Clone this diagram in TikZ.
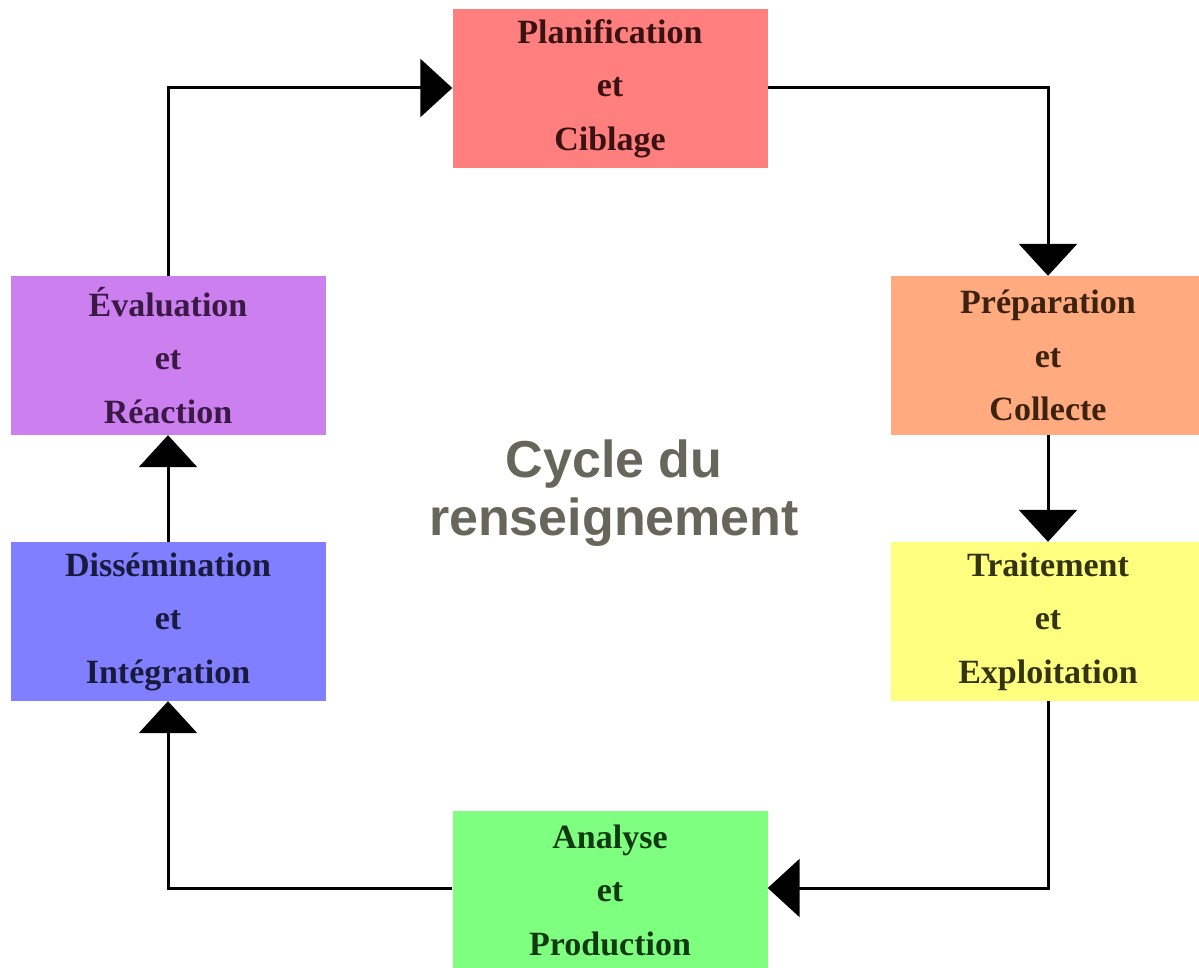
\documentclass[tikz,border=0pt]{standalone}
\usepackage{fontspec}
\setmainfont{Liberation Serif}
\newfontfamily\titlefont{Liberation Sans}
\usetikzlibrary{arrows.meta}
\definecolor{cPlan}{HTML}{FF7F7F}
\definecolor{cPrep}{HTML}{FFAA7F}
\definecolor{cTrait}{HTML}{FFFF7F}
\definecolor{cAna}{HTML}{7FFF7F}
\definecolor{cDiss}{HTML}{7F7FFF}
\definecolor{cEval}{HTML}{CC7FEE}
\definecolor{tPlan}{HTML}{3A1212}
\definecolor{tPrep}{HTML}{3D2210}
\definecolor{tTrait}{HTML}{343412}
\definecolor{tAna}{HTML}{123A12}
\definecolor{tDiss}{HTML}{1A1A3E}
\definecolor{tEval}{HTML}{3A1A45}
\definecolor{titlegray}{HTML}{66665A}
\tikzset{
  stagebox/.style={rectangle, draw=none, minimum width=315pt, minimum height=159pt,
    inner sep=0pt, align=center, font=\fontsize{34}{53.5}\selectfont\bfseries},
  flow/.style={line width=3pt, -{Triangle[length=32pt,width=58pt]}},
}
\begin{document}
\begin{tikzpicture}[x=1pt,y=-1pt]
\useasboundingbox (0,0) rectangle (1199,968);
\fill[white] (0,0) rectangle (1199,968);
\node[stagebox, fill=cPlan, text=tPlan] (plan) at (610,88.5) {Planification\\et\\Ciblage};
\node[stagebox, fill=cPrep, text=tPrep] (prep) at (1048,355.5) {Préparation\\et\\Collecte};
\node[stagebox, fill=cTrait, text=tTrait] (trait) at (1048,621.5) {Traitement\\et\\Exploitation};
\node[stagebox, fill=cAna, text=tAna] (ana) at (610,890) {Analyse\\et\\Production};
\node[stagebox, fill=cDiss, text=tDiss] (diss) at (168,621.5) {Dissémination\\et\\Intégration};
\node[stagebox, fill=cEval, text=tEval] (eval) at (168,355.5) {Évaluation\\et\\Réaction};
\node[align=center, text=titlegray, font=\titlefont\fontsize{52}{58}\selectfont\bfseries] (title) at (614,493) {Cycle du\\renseignement};
\coordinate (c1) at (1048,88);
\coordinate (c2) at (1048,888);
\coordinate (c3) at (168,888);
\coordinate (c4) at (168,88);
\draw[flow] (plan.east |- c1) -- (c1) -- (prep.north);
\draw[flow] (prep.south) -- (trait.north);
\draw[flow] (trait.south) -- (c2) -- (ana.east |- c2);
\draw[flow] (ana.west |- c3) -- (c3) -- (diss.south);
\draw[flow] (diss.north) -- (eval.south);
\draw[flow] (eval.north) -- (c4) -- (plan.west |- c4);
\end{tikzpicture}
\end{document}
